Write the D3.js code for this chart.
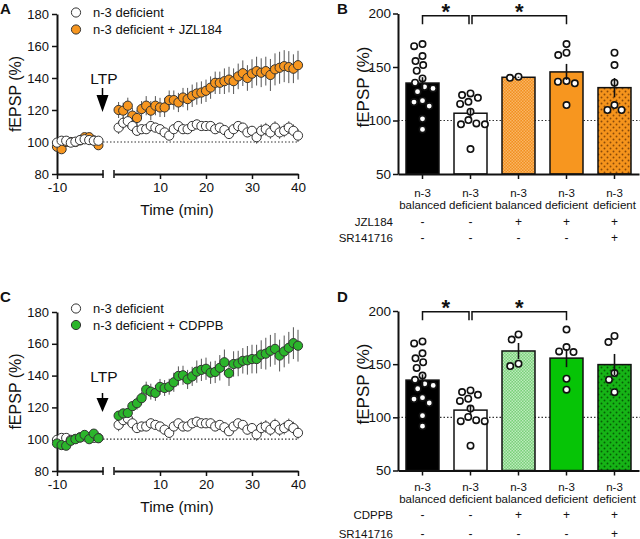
<!DOCTYPE html>
<html><head><meta charset="utf-8">
<script src="https://cdn.jsdelivr.net/npm/d3@7"></script>
<style>body{margin:0;background:#fff}svg{display:block}text{font-family:"Liberation Sans",Arial,sans-serif;fill:#111}</style>
</head><body>
<svg id="c" width="640" height="539"></svg>
<script>
// ---------- DATA ----------
const baseTime = [-10,-9,-8,-7,-6,-5,-4,-3,-2,-1];
const postTime = [1,2,3,4,5,6,7,8,9,10,11,12,13,14,15,16,17,18,19,20,21,22,23,24,25,26,27,28,29,30,31,32,33,34,35,36,37,38,39,40];
const yTicksTime = [80,100,120,140,160,180];
const xTicksBase = [-10];
const xTicksPost = [10,20,30,40];

// n-3 deficient (white)
const defBase    = [99.6,100.8,100.8,99.6,100.2,101.2,101.7,101.2,100.8,100.8];
const defBaseSem = [1.5,1.5,1.5,1.5,1.5,1.5,1.5,1.5,1.5,1.5];
const defPost    = [109,112,113,110,107,108,108,110,109,108,106,104,108,110,108,108,110,111,110,110,110,108,109,107.5,105,108,110,109,106,107,103,107,108,106,109,106,107,109,107,104];
const defPostSem = [4,4,4,4,3,3,3,3,3,3,3,3,3,3,3,3,3,3,3,3,3,3,3,3,3,3,3,3,3,3,4,4,4,4,4,4,4,4,4,4];

// n-3 deficient + JZL184 (orange)
const jzlBase    = [97,95.5,100,100,100,101,103,103,101,98];
const jzlBaseSem = [1.5,1.5,1.5,1.5,1.5,1.5,1.5,1.5,1.5,2.5];
const jzlPost    = [120,119.6,122.7,116.5,115,120.6,122.7,119.6,122.7,121.6,121.6,126.2,126.2,124.7,127.8,126.8,128.9,130.3,130.9,132,134,137,137,138,139,138,141,143,140,142.7,144.3,143.3,144.3,141.9,145.4,146.4,147.4,146.8,145.8,148];
const jzlPostSem = [5,5,5,5,5,5,6,6,6,6,6,6,6,6,6,7,7,7,7,7,7,7,7,8,8,8,8,8,8,9,9,9,9,10,10,10,10,10,9,9];

// n-3 deficient + CDPPB (green)
const cdBase     = [97.3,96.3,95.9,99,100,101,102.7,100,103.5,100.6];
const cdBaseSem  = [1.5,1.5,1.5,1.5,1.5,1.5,1.5,1.5,1.5,1.5];
const cdPost     = [114.8,116.2,116.5,120.8,122.6,125.8,131.2,129.9,129.1,132.9,132.2,133,135.8,139.8,140.2,137.6,139.5,142.5,143.6,144.3,141.8,142.3,144.9,148.4,141.5,147.3,147.6,149.3,149.6,150.4,150.4,153.2,153.8,155.6,156.8,152.6,155.2,157.5,160.4,158.8];
const cdPostSem  = [3,3,3,3,4,4,5,5,5,5,5,5,6,6,6,6,6,7,7,7,7,7,8,8,8,8,8,8,9,9,9,9,10,10,10,10,10,10,10,10];

// bar panels
const catLine1 = ["n-3","n-3","n-3","n-3","n-3"];
const catLine2 = ["balanced","deficient","balanced","deficient","deficient"];
const yTicksBar = [50,100,150,200];
const jzlSigns  = ["-","-","+","+","+"];
const cdppbSigns= ["-","-","+","+","+"];
const srSigns   = ["-","-","-","-","+"];

const dotsBalanced  = [171.4,169.5,160.2,155.5,151.8,146.5,139.3,135.3,131.5,130,126.9,118.5,117.2,113.5,101.6,91.7];
const dotsDeficient = [125.3,123.8,121.2,117.5,115.4,108.2,100.4,97.3,96.4,96.4,73.3];
const dotsB3 = [140.9,139.9];
const dotsB4 = [171.4,163.3,161.1,136.8,136.2,134.7,114.4];
const dotsB5 = [163.3,151.8,135.3,114.4,109.8,109.8];
const dotsD3 = [178,173.1,150.4,148.2];
const dotsD4 = [182.5,166.1,162,161.4,136.3,126];
const dotsD5 = [176.5,170.8,141.6,135.4,123.7];

const meansB = [135,106.8,140.4,145.4,130.7];
const semB   = [5.5,4.5,0.5,7.5,9];
const meansD = [135,106.8,162.4,155.7,149.6];
const semD   = [5.5,4.5,7.5,8.5,10];

// ---------- DRAW ----------
const svg = d3.select("#c");
svg.append("rect").attr("width",640).attr("height",539).attr("fill","#fff");
const defs = svg.append("defs");
function checkPattern(id, base, light){
  const p=defs.append("pattern").attr("id",id).attr("patternUnits","userSpaceOnUse").attr("width",3).attr("height",3);
  p.append("rect").attr("width",3).attr("height",3).attr("fill",base);
  p.append("rect").attr("width",1.5).attr("height",1.5).attr("fill",light);
  p.append("rect").attr("x",1.5).attr("y",1.5).attr("width",1.5).attr("height",1.5).attr("fill",light);
}
function dotPattern(id, base, dot){
  const p=defs.append("pattern").attr("id",id).attr("patternUnits","userSpaceOnUse").attr("width",6).attr("height",6);
  p.append("rect").attr("width",6).attr("height",6).attr("fill",base);
  p.append("circle").attr("cx",1.5).attr("cy",1.5).attr("r",0.95).attr("fill",dot);
  p.append("circle").attr("cx",4.5).attr("cy",4.5).attr("r",0.95).attr("fill",dot);
}
checkPattern("patB3","#F28F1E","#F9B665");
dotPattern("patB5","#F5941C","#8A4A08");
checkPattern("patD3","#79D079","#BDEBBD");
dotPattern("patD5","#16B416","#065E06");

const ORANGE="#F7961F", GREEN="#2BB52B";

function styleAxis(a, fs){
  a.select(".domain").attr("stroke","#111").attr("stroke-width",2);
  a.selectAll(".tick line").attr("stroke","#111").attr("stroke-width",1.5);
  a.selectAll(".tick text").attr("font-size",fs).attr("fill","#111").attr("font-family","Liberation Sans, Arial, sans-serif");
}

function series(gE, gC, xs, ys, sems, x, y, fill){
  gE.selectAll(null).data(ys).join("line")
    .attr("x1",(d,i)=>x(xs[i])).attr("x2",(d,i)=>x(xs[i]))
    .attr("y1",(d,i)=>y(d-sems[i])).attr("y2",(d,i)=>y(d+sems[i]))
    .attr("stroke","#555").attr("stroke-width",1);
  gC.selectAll(null).data(ys).join("circle")
    .attr("cx",(d,i)=>x(xs[i])).attr("cy",d=>y(d)).attr("r",4.6)
    .attr("fill",fill).attr("stroke","#333").attr("stroke-width",1);
}

function timePanel(o){
  const y=d3.scaleLinear().domain([80,180]).range([o.bottom,o.top]);
  const xb=d3.scaleLinear().domain([-10,0]).range([57,103]);
  const xp=d3.scaleLinear().domain([0,40]).range([114,298]);
  const g=svg.append("g");
  g.append("text").attr("x",0).attr("y",o.letterY).attr("font-size",15).attr("font-weight","bold").text(o.letter);
  g.append("line").attr("x1",xb(0)).attr("x2",xp(40)).attr("y1",y(100)).attr("y2",y(100))
    .attr("stroke","#333").attr("stroke-width",1.2).attr("stroke-dasharray","1.5,2");
  const ya=g.append("g").attr("transform","translate(57,0)")
    .call(d3.axisLeft(y).tickValues(yTicksTime).tickSize(5).tickSizeOuter(0).tickPadding(3).tickFormat(d=>String(d)));
  styleAxis(ya,13);
  const xa1=g.append("g").attr("transform",`translate(0,${o.bottom})`)
    .call(d3.axisBottom(xb).tickValues(xTicksBase).tickSize(5).tickSizeOuter(0).tickPadding(3).tickFormat(d=>String(d)));
  styleAxis(xa1,13.5);
  const xa2=g.append("g").attr("transform",`translate(0,${o.bottom})`)
    .call(d3.axisBottom(xp).tickValues(xTicksPost).tickSize(5).tickSizeOuter(0).tickPadding(3).tickFormat(d=>String(d)));
  styleAxis(xa2,13.5);
  [xb(0), xp(0)].forEach(cx=>g.append("line").attr("x1",cx).attr("x2",cx).attr("y1",o.bottom-4).attr("y2",o.bottom+4).attr("stroke","#111").attr("stroke-width",1.5));
  g.append("text").attr("x",177).attr("y",o.bottom+41).attr("text-anchor","middle").attr("font-size",15.5).text("Time (min)");
  g.append("text").attr("transform",`translate(21,${(o.top+o.bottom)/2}) rotate(-90)`).attr("text-anchor","middle").attr("font-size",16).text("fEPSP (%)");
  g.append("text").attr("x",104).attr("y",o.ltpY).attr("text-anchor","middle").attr("font-size",15.5).text("LTP");
  g.append("line").attr("x1",102.5).attr("x2",102.5).attr("y1",o.arrowTop).attr("y2",o.arrowHead).attr("stroke","#000").attr("stroke-width",1.5);
  g.append("path").attr("d",`M96.5,${o.arrowHead}L108.5,${o.arrowHead}L102.5,${o.arrowTip}Z`).attr("fill","#000");
  const gE=g.append("g"), gC=g.append("g");
  if(o.whiteOnTop){
    series(gE,gC,baseTime,o.tBase,o.tBaseSem,xb,y,o.color);
    series(gE,gC,postTime,o.tPost,o.tPostSem,xp,y,o.color);
    series(gE,gC,baseTime,defBase,defBaseSem,xb,y,"#fff");
    series(gE,gC,postTime,defPost,defPostSem,xp,y,"#fff");
  } else {
    series(gE,gC,baseTime,defBase,defBaseSem,xb,y,"#fff");
    series(gE,gC,postTime,defPost,defPostSem,xp,y,"#fff");
    series(gE,gC,baseTime,o.tBase,o.tBaseSem,xb,y,o.color);
    series(gE,gC,postTime,o.tPost,o.tPostSem,xp,y,o.color);
  }
  const lg=g.append("g");
  lg.append("circle").attr("cx",76).attr("cy",o.legY1).attr("r",4.6).attr("fill","#fff").attr("stroke","#333");
  lg.append("text").attr("x",93).attr("y",o.legY1+4.6).attr("font-size",13).text("n-3 deficient");
  lg.append("circle").attr("cx",76).attr("cy",o.legY2).attr("r",4.6).attr("fill",o.color).attr("stroke","#333");
  lg.append("text").attr("x",93).attr("y",o.legY2+4.6).attr("font-size",13).text(o.label);
}

function swarm(vals, y, minD){
  const placed=[];
  vals.forEach(v=>{
    const py=y(v);
    const cands=[0];
    placed.forEach(p=>{const dy=Math.abs(p.y-py); if(dy<minD){const dx=Math.sqrt(minD*minD-dy*dy); cands.push(p.dx+dx,p.dx-dx);}});
    cands.sort((a,b)=>Math.abs(a)-Math.abs(b)||a-b);
    const ok=cands.find(c=>placed.every(p=>{const dx=p.dx-c,dy=p.y-py;return dx*dx+dy*dy>=minD*minD-0.01;}));
    placed.push({dx:ok,y:py});
  });
  return placed;
}

function barPanel(o){
  const y=d3.scaleLinear().domain([50,200]).range([o.bottom,o.top]);
  const x=d3.scaleBand().domain([0,1,2,3,4]).range([398,639]).paddingInner(0.3125).paddingOuter(0.1667);
  const bw=x.bandwidth(), cx=i=>x(i)+bw/2;
  const g=svg.append("g");
  g.append("text").attr("x",337).attr("y",o.letterY).attr("font-size",15).attr("font-weight","bold").text(o.letter);
  g.append("line").attr("x1",398).attr("x2",640).attr("y1",y(100)).attr("y2",y(100))
    .attr("stroke","#333").attr("stroke-width",1.2).attr("stroke-dasharray","1.5,2");
  g.selectAll(null).data(o.means).join("rect")
    .attr("x",(d,i)=>x(i)).attr("y",d=>y(d)).attr("width",bw).attr("height",d=>o.bottom-y(d))
    .attr("fill",(d,i)=>o.fills[i]).attr("stroke","#111").attr("stroke-width",1.5);
  o.dots.forEach((vals,i)=>{
    const pts=swarm(vals,y,8.6);
    g.selectAll(null).data(pts).join("circle").attr("cx",p=>cx(i)+p.dx).attr("cy",p=>p.y).attr("r",3.2)
      .attr("fill","#fff").attr("stroke","#111").attr("stroke-width",1.6);
  });
  g.selectAll(null).data(o.means).join("line")
    .attr("x1",(d,i)=>cx(i)).attr("x2",(d,i)=>cx(i))
    .attr("y1",(d,i)=>y(d-o.sems[i])).attr("y2",(d,i)=>y(d+o.sems[i]))
    .attr("stroke","#111").attr("stroke-width",1.6);
  const xa=g.append("g").attr("transform",`translate(0,${o.bottom})`)
    .call(d3.axisBottom(x).tickSize(5).tickSizeOuter(0).tickFormat(""));
  styleAxis(xa,12);
  const ya=g.append("g").attr("transform","translate(398,0)")
    .call(d3.axisLeft(y).tickValues(yTicksBar).tickSize(5).tickSizeOuter(0).tickPadding(2).tickFormat(d=>String(d)));
  styleAxis(ya,13.5);
  g.append("text").attr("transform",`translate(369,${o.titleY}) rotate(-90)`).attr("text-anchor","middle").attr("font-size",17).text("fEPSP (%)");
  catLine1.forEach((t,i)=>g.append("text").attr("x",cx(i)).attr("y",o.bottom+o.cat1).attr("text-anchor","middle").attr("font-size",11.5).attr("fill","#222").text(t));
  catLine2.forEach((t,i)=>g.append("text").attr("x",cx(i)).attr("y",o.bottom+o.cat2).attr("text-anchor","middle").attr("font-size",11.5).attr("fill","#222").text(t));
  o.rows.forEach(r=>{
    g.append("text").attr("x",393).attr("y",r.y).attr("text-anchor","end").attr("font-size",11.5).attr("fill","#222").text(r.name);
    r.signs.forEach((s,i)=>g.append("text").attr("x",cx(i)).attr("y",r.y).attr("text-anchor","middle").attr("font-size",12).attr("fill","#333").text(s));
  });
  const bt=o.bracketTop, bb=o.bracketTop+8.5;
  [[cx(0),cx(1)-1.5],[cx(1)+1.5,cx(3)]].forEach(([a,b])=>{
    g.append("path").attr("d",`M${a},${bb}V${bt}H${b}V${bb}`).attr("fill","none").attr("stroke","#111").attr("stroke-width",1.5);
    g.append("text").attr("x",(a+b)/2).attr("y",o.starY).attr("text-anchor","middle").attr("font-size",22).attr("font-weight","bold").text("*");
  });
}

timePanel({letter:"A",letterY:13.5,top:14,bottom:174,legY1:12.5,legY2:29.5,ltpY:83.5,arrowTop:88,arrowHead:95,arrowTip:112,
  tBase:jzlBase,tBaseSem:jzlBaseSem,tPost:jzlPost,tPostSem:jzlPostSem,color:ORANGE,label:"n-3 deficient + JZL184",whiteOnTop:true});
timePanel({letter:"C",letterY:302,top:312,bottom:471,legY1:308.5,legY2:325,ltpY:382,arrowTop:393,arrowHead:398,arrowTip:412,
  tBase:cdBase,tBaseSem:cdBaseSem,tPost:cdPost,tPostSem:cdPostSem,color:GREEN,label:"n-3 deficient + CDPPB",whiteOnTop:false});

barPanel({letter:"B",letterY:13.5,top:13.5,bottom:174,titleY:87,means:meansB,sems:semB,
  fills:["#000","#fff","url(#patB3)",ORANGE,"url(#patB5)"],
  dots:[dotsBalanced,dotsDeficient,dotsB3,dotsB4,dotsB5],cat1:23,cat2:34.5,
  rows:[{name:"JZL184",y:226,signs:jzlSigns},{name:"SR141716",y:242,signs:srSigns}],
  bracketTop:15.7,starY:19});
barPanel({letter:"D",letterY:302,top:311,bottom:470.5,titleY:384,means:meansD,sems:semD,
  fills:["#000","#fff","url(#patD3)","#06C406","url(#patD5)"],
  dots:[dotsBalanced,dotsDeficient,dotsD3,dotsD4,dotsD5],cat1:20.5,cat2:32,
  rows:[{name:"CDPPB",y:519,signs:cdppbSigns},{name:"SR141716",y:537.5,signs:srSigns}],
  bracketTop:311.7,starY:315});
</script>
</body></html>
